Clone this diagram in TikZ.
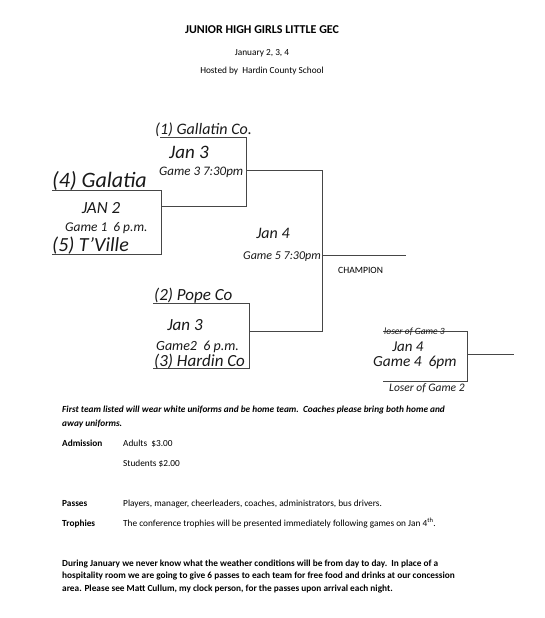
\documentclass[tikz,border=0pt]{standalone}
\usepackage{fontspec}
\setmainfont{Carlito}
\usepackage{tikz}
\definecolor{inkgray}{RGB}{70,70,70}
\definecolor{pengray}{RGB}{25,25,25}

\tikzset{
  hand/.style={font=\itshape\fontsize{#1}{#1}\selectfont, text=pengray, inner sep=0pt},
  hand/.default=13,
  print/.style={font=\fontsize{9.3}{12.5}\selectfont, inner sep=0pt, anchor=base west, align=left},
  printbf/.style={print, font=\bfseries\fontsize{9.3}{12.5}\selectfont},
  bline/.style={draw=inkgray, line width=0.7pt},
}

\begin{document}
\begin{tikzpicture}[x=1pt, y=-1pt]
  \useasboundingbox[fill=white] (0,0) rectangle (544,618);

  % heading
  \node[font=\bfseries\fontsize{12}{14}\selectfont, inner sep=0pt] (title) at (262,30) {JUNIOR HIGH GIRLS LITTLE GEC};
  \node[print, anchor=center] (dates) at (262,53) {January 2, 3, 4};
  \node[print, anchor=center] (host) at (262,71) {Hosted by\ \ Hardin County School};

  % bracket corners
  \coordinate (g1tl) at (52,190);  \coordinate (g1tr) at (161,190);
  \coordinate (g1bl) at (52,254);  \coordinate (g1br) at (161,254);
  \coordinate (g3tl) at (160,137); \coordinate (g3tr) at (246,137);
  \coordinate (g3bl) at (161,206); \coordinate (g3br) at (246,206);
  \coordinate (g3o) at (246,170);  \coordinate (g5t) at (322,170);
  \coordinate (g2tl) at (153,303); \coordinate (g2tr) at (249,303);
  \coordinate (g2bl) at (153,368); \coordinate (g2br) at (249,368);
  \coordinate (g2o) at (249,331);  \coordinate (g5b) at (322,331);
  \coordinate (g5o) at (322,255);  \coordinate (champ) at (406,255);
  \coordinate (g4tl) at (383,331); \coordinate (g4tr) at (467,331);
  \coordinate (g4bl) at (383,381); \coordinate (g4br) at (467,381);
  \coordinate (g4o) at (467,354);  \coordinate (g4e) at (514,354);

  \draw[bline] (g1tl) -- (g1tr) -- (g1br) -- (g1bl);
  \draw[bline] (g3tl) -- (g3tr) -- (g3br) -- (g3bl);
  \draw[bline] (g2tl) -- (g2tr) -- (g2br) -- (g2bl);
  \draw[bline] (g4tl) -- (g4tr) -- (g4br) -- (g4bl);
  \draw[bline] (g3o) -- (g5t) -- (g5b) -- (g2o);
  \draw[bline] (g5o) -- (champ);
  \draw[bline] (g4o) -- (g4e);

  % handwritten entries
  \node[hand=16, anchor=base west] (gallatin) at (155,134) {(1) Gallatin Co.};
  \node[hand=19] (g3date) at (189,152) {Jan 3};
  \node[hand=13, anchor=west] (g3time) at (159,172) {Game 3 7:30pm};
  \node[hand=22, anchor=base west] (galatia) at (52,187) {(4) Galatia};
  \node[hand=17] (g1date) at (101,208) {JAN 2};
  \node[hand=13.4, anchor=west] (g1time) at (65,228) {Game 1\ \ 6 p.m.};
  \node[hand=20, anchor=base west] (tville) at (52,251) {(5) T'Ville};
  \node[hand=16] (g5date) at (273,233) {Jan 4};
  \node[hand=12, anchor=west] (g5time) at (243,257) {Game 5 7:30pm};
  \node[print, font=\fontsize{9.6}{12}\selectfont, anchor=west] (champion) at (338,270) {CHAMPION};
  \node[hand=17, anchor=base west] (pope) at (154,300) {(2) Pope Co};
  \node[hand=17] (g2date) at (185,325) {Jan 3};
  \node[hand=14, anchor=west] (g2time) at (156,347) {Game2\ \ 6 p.m.};
  \node[hand=17, anchor=base west] (hardin) at (154,366) {(3) Hardin Co};
  \node[hand=9.5, anchor=base west] (loser3) at (384,334) {loser of Game 3};
  \node[hand=15, anchor=base] (g4date) at (408,351) {Jan 4};
  \node[hand=15.4, anchor=west] (g4time) at (373,363) {Game 4\ \ 6pm};
  \node[hand=11.5, anchor=west] (loser2) at (389,388) {Loser of Game 2};

  % notes (base of a two- or three-line node is its last line)
  \node[print, font=\bfseries\itshape\fontsize{9.3}{13.5}\selectfont] (uniforms) at (62,426)
    {First team listed will wear white uniforms and be home team.\ \ Coaches please bring both home and\\away uniforms.};
  \node[printbf] (admission) at (62,446) {Admission};
  \node[print] (adults) at (123,446) {Adults\ \ \$3.00};
  \node[print] (students) at (123,466) {Students \$2.00};
  \node[printbf] (passes) at (62,506) {Passes};
  \node[print] (passlist) at (123,506) {Players, manager, cheerleaders, coaches, administrators, bus drivers.};
  \node[printbf] (trophies) at (62,526) {Trophies};
  \node[print] (trophytext) at (123,526) {The conference trophies will be presented immediately following games on Jan 4\textsuperscript{th}.};
  \node[print, font=\bfseries\fontsize{9.3}{12.5}\selectfont] (weather) at (62,591)
    {During January we never know what the weather conditions will be from day to day.\ \ In place of a\\
     hospitality room we are going to give 6 passes to each team for free food and drinks at our concession\\
     area. Please see Matt Cullum, my clock person, for the passes upon arrival each night.};
\end{tikzpicture}
\end{document}
